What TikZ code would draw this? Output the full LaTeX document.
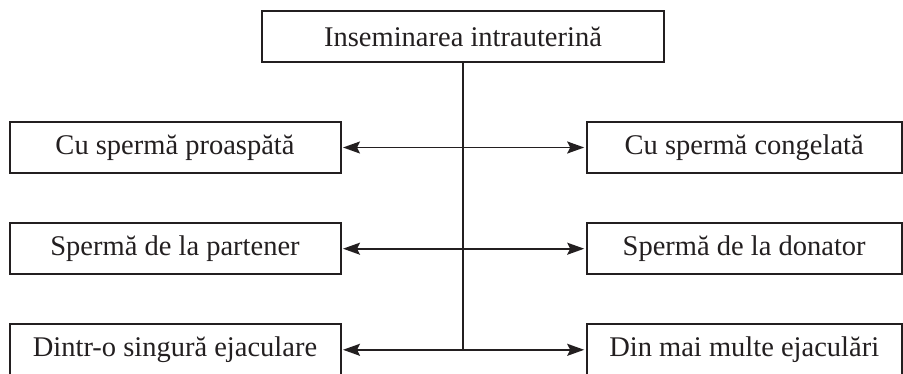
\documentclass[tikz,border=0pt]{standalone}
\usepackage{fontspec}
\setmainfont{Liberation Serif}
\usetikzlibrary{arrows.meta}
\definecolor{ink}{HTML}{231F20}
\begin{document}
\begin{tikzpicture}[x=1pt,y=-1pt,
  box/.style={draw=ink, line width=2pt, minimum height=51.5pt, inner sep=0pt,
    text=ink, font=\fontsize{28.5}{34}\selectfont},
  leftbox/.style={box, minimum width=331pt},
  rightbox/.style={box, minimum width=315pt},
  link/.style={draw=ink, line width=1.8pt},
  tip/.tip={Stealth[length=17pt,width=12pt,inset=3pt]},
  both/.style={link, tip-tip, shorten <=1.5pt, shorten >=1.5pt}]
\useasboundingbox (0,0) rectangle (903,373);
% root
\node[box, minimum width=402pt] (top) at (463,36.7) {Inseminarea intrauterină};
% left column
\node[leftbox] (l1) at (175,147.5) {Cu spermă proaspătă};
\node[leftbox] (l2) at (175,248.7) {Spermă de la partener};
\node[leftbox] (l3) at (175,349.8) {Dintr-o singură ejaculare};
% right column
\node[rightbox] (r1) at (744.2,147.5) {Cu spermă congelată};
\node[rightbox] (r2) at (744.2,248.7) {Spermă de la donator};
\node[rightbox] (r3) at (744.2,349.8) {Din mai multe ejaculări};
% trunk and branches
\coordinate (hub) at (top.south |- l3.east);
\draw[link] (top.south) -- (hub);
\draw[both] (l1.east) -- (r1.west);
\draw[both] (l2.east) -- (r2.west);
\draw[both] (l3.east) -- (r3.west);
\end{tikzpicture}
\end{document}
